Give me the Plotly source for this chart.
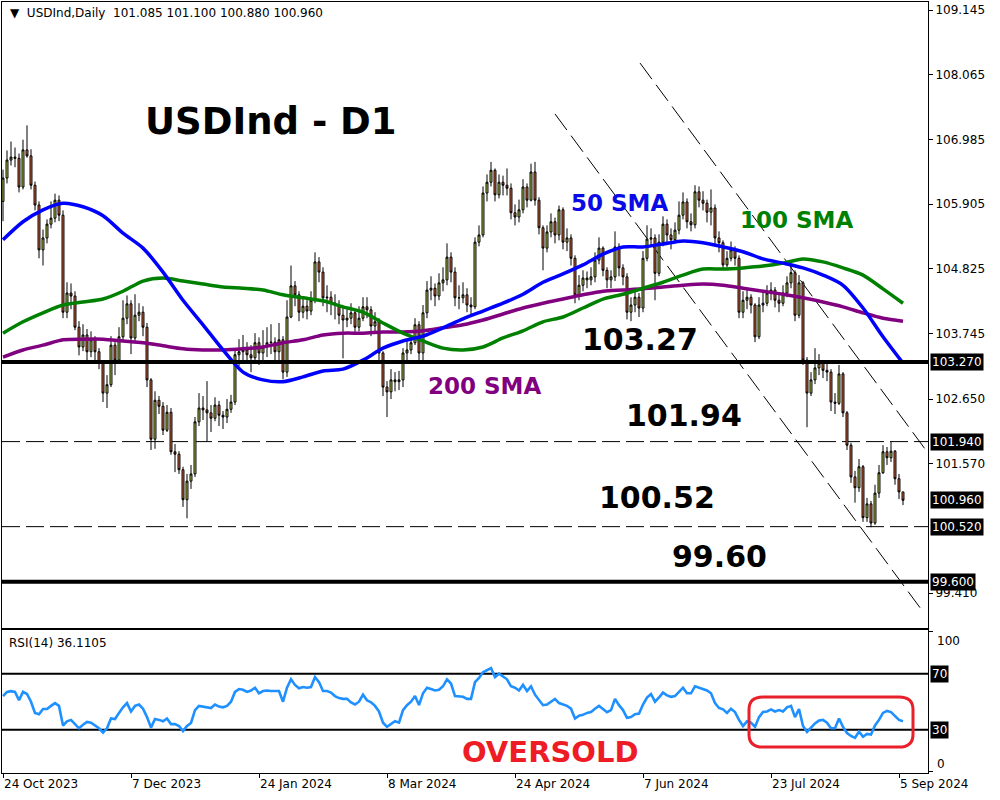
import plotly.graph_objects as go

# ---------------- data ----------------
first_open = 105.95
close = [
    106.34, 106.64, 106.69, 106.67, 106.19, 106.81, 106.71, 106.22, 105.89, 105.14,
    105.34, 105.57, 105.67, 105.97, 105.72, 104.10, 104.42, 104.37, 103.85, 103.52,
    103.72, 103.44, 103.64, 103.44, 103.25, 102.75, 102.89, 103.55, 103.30, 103.69,
    104.00, 104.24, 103.67, 104.05, 104.10, 103.85, 102.97, 101.98, 102.63, 102.53,
    102.13, 102.43, 101.77, 101.73, 101.47, 100.97, 101.28, 101.40, 102.27, 102.50,
    102.47, 102.42, 102.33, 102.55, 102.38, 102.35, 102.48, 102.60, 103.39, 103.44,
    103.47, 103.39, 103.34, 103.59, 103.42, 103.52, 103.59, 103.60, 103.44, 103.64,
    103.10, 104.02, 104.54, 104.39, 104.10, 104.20, 104.12, 104.30, 104.94, 104.77,
    104.34, 104.35, 104.25, 104.22, 104.05, 103.97, 104.00, 104.09, 103.85, 104.00,
    104.19, 104.14, 103.87, 103.94, 103.42, 102.85, 102.77, 102.97, 102.94, 102.97,
    103.42, 103.47, 103.59, 103.89, 103.42, 104.09, 104.47, 104.50, 104.37, 104.59,
    104.64, 105.02, 104.77, 104.34, 104.34, 104.39, 104.22, 104.19, 105.27, 105.39,
    106.09, 106.27, 106.47, 106.06, 106.27, 106.22, 106.17, 105.76, 105.69, 105.81,
    106.19, 105.97, 106.44, 105.97, 105.51, 105.17, 105.44, 105.61, 105.39, 105.81,
    105.27, 105.34, 105.00, 104.39, 104.55, 104.67, 104.64, 104.69, 104.97, 105.17,
    104.80, 104.64, 104.69, 105.19, 104.84, 104.69, 104.10, 104.22, 104.35, 104.17,
    105.00, 105.32, 105.34, 104.75, 105.27, 105.57, 105.39, 105.31, 105.47, 105.72,
    105.94, 105.61, 105.56, 106.11, 105.97, 105.92, 105.77, 105.84, 105.34, 105.26,
    104.89, 105.00, 105.14, 105.00, 104.10, 104.30, 104.35, 104.22, 103.69, 104.22,
    104.25, 104.42, 104.47, 104.30, 104.25, 104.42, 104.59, 104.76, 104.05, 104.59,
    103.30, 102.75, 102.97, 103.17, 103.25, 103.13, 103.10, 102.60, 102.58, 103.07,
    102.42, 101.88, 101.35, 101.17, 101.52, 100.67, 100.90, 100.58, 101.08, 101.42,
    101.77, 101.67, 101.78, 101.32, 101.10, 100.96,
]
high = [
    106.48, 106.80, 106.95, 106.85, 106.75, 106.98, 107.22, 106.82, 106.28, 105.95,
    105.48, 105.65, 105.95, 106.08, 106.05, 105.80, 104.60, 104.58, 104.45, 103.95,
    103.90, 103.82, 103.78, 103.70, 103.50, 103.30, 103.05, 103.70, 103.62, 103.85,
    104.30, 104.38, 104.30, 104.40, 104.25, 104.20, 103.92, 103.00, 102.78, 102.70,
    102.60, 102.55, 102.50, 101.90, 101.78, 101.52, 101.40, 101.55, 102.35, 102.75,
    102.70, 102.95, 102.55, 102.68, 102.62, 102.45, 102.65, 102.72, 103.50, 103.65,
    103.72, 103.60, 103.55, 103.75, 103.68, 103.80, 103.85, 103.90, 103.68, 103.92,
    103.70, 104.30, 104.88, 104.62, 104.45, 104.35, 104.30, 104.45, 105.10, 105.02,
    104.85, 104.55, 104.45, 104.40, 104.30, 104.20, 104.15, 104.25, 104.15, 104.20,
    104.35, 104.35, 104.20, 104.10, 104.00, 103.45, 102.95, 103.15, 103.10, 103.12,
    103.50, 103.65, 103.72, 104.00, 103.95, 104.22, 104.62, 104.70, 104.58, 104.75,
    104.85, 105.25, 105.10, 104.85, 104.55, 104.60, 104.50, 104.35, 105.35, 105.55,
    106.20, 106.40, 106.61, 106.50, 106.40, 106.38, 106.50, 106.25, 105.90, 105.98,
    106.32, 106.25, 106.58, 106.61, 106.02, 105.55, 105.55, 105.75, 105.68, 105.88,
    105.85, 105.50, 105.40, 105.05, 104.72, 104.80, 104.78, 104.85, 105.10, 105.35,
    105.20, 104.85, 104.80, 105.45, 105.25, 104.90, 104.75, 104.35, 104.50, 104.42,
    105.12, 105.55, 105.50, 105.40, 105.40, 105.70, 105.65, 105.50, 105.60, 105.95,
    106.10, 106.00, 105.75, 106.22, 106.20, 106.12, 105.98, 106.15, 105.90, 105.45,
    105.30, 105.12, 105.28, 105.20, 105.05, 104.45, 104.50, 104.40, 104.25, 104.35,
    104.42, 104.55, 104.60, 104.52, 104.40, 104.55, 104.70, 104.90, 104.80, 104.72,
    104.62, 103.35, 103.10, 103.50, 103.40, 103.30, 103.25, 103.15, 102.75, 103.22,
    103.10, 102.45, 101.92, 101.45, 101.65, 101.55, 101.00, 100.95, 101.22, 101.55,
    101.88, 101.85, 101.94, 101.80, 101.40, 101.10,
]
low = [
    105.62, 106.25, 106.55, 106.52, 106.10, 106.15, 106.68, 106.15, 105.80, 105.00,
    104.88, 105.25, 105.50, 105.60, 105.62, 104.00, 104.00, 104.15, 103.80, 103.38,
    103.45, 103.30, 103.35, 103.25, 103.15, 102.60, 102.50, 102.85, 103.05, 103.25,
    103.62, 103.90, 103.40, 103.60, 103.95, 103.70, 102.85, 101.80, 101.82, 102.40,
    102.05, 102.10, 101.72, 101.43, 101.40, 100.85, 100.66, 101.15, 101.35, 102.20,
    102.30, 101.95, 102.10, 102.28, 102.20, 102.15, 102.25, 102.42, 102.55, 103.20,
    103.30, 103.25, 103.10, 103.28, 103.22, 103.30, 103.35, 103.40, 103.30, 103.30,
    102.98, 103.02, 104.00, 104.20, 103.95, 104.00, 103.98, 104.05, 104.25, 104.60,
    104.20, 104.10, 104.05, 103.98, 103.90, 103.33, 103.85, 103.90, 103.72, 103.78,
    103.95, 104.00, 103.70, 103.75, 103.30, 102.70, 102.35, 102.65, 102.78, 102.80,
    102.85, 103.30, 103.40, 103.55, 103.28, 103.30, 104.00, 104.30, 104.20, 104.30,
    104.45, 104.55, 104.60, 104.20, 104.15, 104.25, 104.10, 104.05, 104.15, 105.20,
    105.35, 105.95, 106.20, 105.95, 106.00, 106.05, 106.05, 105.65, 105.55, 105.60,
    105.75, 105.85, 105.95, 105.88, 105.40, 104.80, 105.10, 105.35, 105.25, 105.30,
    105.15, 105.12, 104.88, 104.25, 104.30, 104.45, 104.50, 104.55, 104.60, 104.90,
    104.70, 104.50, 104.50, 104.62, 104.70, 104.55, 103.98, 103.95, 104.10, 104.02,
    104.10, 104.95, 105.20, 104.30, 104.70, 105.20, 105.25, 105.15, 105.25, 105.40,
    105.65, 105.50, 105.45, 105.50, 105.85, 105.80, 105.60, 105.55, 105.20, 105.10,
    104.80, 104.85, 104.95, 104.88, 104.00, 104.00, 104.15, 104.08, 103.60, 103.65,
    104.10, 104.20, 104.30, 104.18, 104.10, 104.20, 104.35, 104.50, 103.95, 104.00,
    103.22, 102.18, 102.70, 102.90, 103.05, 103.00, 102.95, 102.45, 102.40, 102.55,
    102.35, 101.80, 101.25, 100.92, 101.10, 100.60, 100.60, 100.51, 100.55, 101.00,
    101.40, 101.55, 101.60, 101.22, 100.98, 100.88,
]
rsi = [
    54.0, 57.0, 57.5, 57.0, 51.0, 57.0, 55.5, 50.0, 42.0, 41.0,
    44.8, 44.8, 47.0, 49.0, 47.0, 33.0, 36.0, 37.0, 34.0, 31.0,
    33.5, 35.5, 35.0, 33.0, 31.0, 28.0, 31.0, 38.0, 37.6, 42.0,
    46.0, 49.0, 43.0, 47.0, 48.0, 45.0, 39.0, 31.5, 37.6, 37.0,
    36.0, 38.0, 34.0, 34.0, 32.6, 29.0, 32.6, 34.8, 44.0, 47.0,
    46.5, 46.0, 45.5, 48.0, 46.5, 46.0, 47.0, 50.0, 57.0, 59.0,
    58.5, 57.0, 58.0, 60.0, 56.0, 57.6, 58.0, 57.6, 57.5, 57.6,
    50.0, 60.0, 66.0, 62.0, 59.6, 60.5, 60.0, 60.5, 67.6, 64.0,
    57.6, 57.6, 56.5, 54.0, 52.6, 52.0, 52.0, 49.5, 48.0, 50.0,
    55.0, 51.0, 49.5, 47.0, 43.0, 35.0, 32.0, 34.0, 36.0, 35.0,
    44.0, 47.5, 50.0, 54.0, 47.6, 56.0, 60.0, 59.0, 58.0, 58.5,
    61.0, 66.0, 63.0, 54.0, 54.0, 53.5, 52.0, 52.0, 64.0, 67.0,
    71.0, 72.5, 74.0, 67.6, 70.0, 68.0, 66.0, 61.0, 60.0, 58.0,
    62.0, 57.6, 61.0, 55.0, 51.0, 47.5, 48.0, 50.0, 52.0, 49.0,
    48.0, 47.0, 45.0, 38.0, 40.0, 40.6, 42.0, 42.6, 45.0, 47.0,
    44.8, 42.5, 44.0, 52.0, 47.5, 44.0, 38.5, 39.0, 41.0, 41.5,
    48.0, 53.0, 55.5, 50.0, 53.0, 56.5, 54.5, 53.5, 54.0, 57.0,
    60.0, 56.0, 56.0, 61.0, 60.0, 59.0, 58.0, 56.0, 49.0, 45.5,
    44.5, 42.0, 45.0, 42.6, 37.0, 32.6, 36.0, 35.0, 32.0, 39.0,
    42.6, 43.0, 44.5, 43.0, 44.0, 43.0, 46.0, 47.0, 39.0, 44.8,
    32.6, 28.4, 31.5, 34.5, 36.5, 37.0, 35.0, 31.0, 31.0, 38.0,
    32.0, 27.6, 25.5, 24.2, 28.5, 25.0, 27.0, 26.5, 33.0, 37.0,
    42.0, 43.4, 42.6, 40.0, 37.0, 36.11,
]
sma_step = 5
sma50 = [
    105.31, 105.61, 105.81, 105.92, 105.86, 105.71, 105.42, 105.17, 104.77, 104.30,
    103.89, 103.47, 103.10, 102.97, 102.94, 103.02, 103.12, 103.15, 103.30, 103.50,
    103.62, 103.70, 103.84, 103.99, 104.12, 104.25, 104.40, 104.60, 104.74, 104.89,
    105.07, 105.19, 105.19, 105.24, 105.29, 105.26, 105.19, 105.11, 104.99, 104.92,
    104.84, 104.72, 104.55, 104.17, 103.69, 103.25,
]
sma100 = [
    103.75, 103.94, 104.09, 104.22, 104.27, 104.32, 104.45, 104.62, 104.67, 104.62,
    104.57, 104.52, 104.50, 104.47, 104.39, 104.34, 104.29, 104.19, 104.10, 103.92,
    103.75, 103.62, 103.50, 103.47, 103.52, 103.67, 103.79, 103.94, 104.02, 104.17,
    104.32, 104.40, 104.50, 104.60, 104.72, 104.82, 104.82, 104.84, 104.87, 104.92,
    104.99, 104.94, 104.84, 104.72, 104.49, 104.25,
]
sma200 = [
    103.35, 103.47, 103.55, 103.64, 103.65, 103.65, 103.62, 103.59, 103.54, 103.49,
    103.47, 103.47, 103.49, 103.52, 103.59, 103.64, 103.72, 103.75, 103.75, 103.77,
    103.77, 103.79, 103.84, 103.89, 103.97, 104.07, 104.17, 104.25, 104.32, 104.39,
    104.45, 104.47, 104.49, 104.52, 104.55, 104.57, 104.55, 104.50, 104.45, 104.40,
    104.34, 104.27, 104.19, 104.09, 104.00, 103.95,
]
date_tick_bars = [0, 32, 64, 96, 128, 160, 192, 224]
date_tick_labels = ["24 Oct 2023", "7 Dec 2023", "24 Jan 2024", "8 Mar 2024",
                    "24 Apr 2024", "7 Jun 2024", "23 Jul 2024", "5 Sep 2024"]
price_ticks = [109.145, 108.065, 106.985, 105.905, 104.825, 103.745, 102.650, 101.570, 99.410]
solid_levels = [103.27, 99.60]
dashed_levels = [101.94, 100.52]
boxed_prices = [103.27, 101.94, 100.96, 100.52, 99.60]
level_labels = ["103.27", "101.94", "100.52", "99.60"]
channel_lower = {"bar": [138, 230], "price": [107.41, 99.10]}
channel_upper = {"bar": [159.25, 231.25], "price": [108.26, 101.75]}
oversold_zone = {"bar": [186.5, 227.5], "rsi": [17.6, 53.4]}
rsi_levels = [70, 30]
header_ohlc = "101.085 101.100 100.880 100.960"
rsi_value_text = "36.1105"

# ---------------- figure ----------------
bars = list(range(len(close)))
opens = [first_open] + close[:-1]
sma_x = list(range(0, len(close), sma_step))

W, H = 1000, 800
def px(x):
    return x / W
def py(y):
    return 1 - y / H

FONT = "DejaVu Sans"
fig = go.Figure()

fig.add_trace(go.Candlestick(
    x=bars, open=opens, high=high, low=low, close=close,
    increasing=dict(fillcolor="#b9d54a", line=dict(color="black", width=1)),
    decreasing=dict(fillcolor="#e4693c", line=dict(color="black", width=1)),
    whiskerwidth=0, xaxis="x", yaxis="y", showlegend=False, hoverinfo="skip",
))
for vals, col in [(sma200, "#800080"), (sma100, "#008000"), (sma50, "#0000ff")]:
    fig.add_trace(go.Scatter(x=sma_x, y=vals, mode="lines",
                             line=dict(color=col, width=3.5, shape="spline", smoothing=0.8),
                             xaxis="x", yaxis="y", showlegend=False, hoverinfo="skip"))

fig.add_trace(go.Scatter(x=bars, y=rsi, mode="lines",
                         line=dict(color="#1e90ff", width=2.6),
                         xaxis="x2", yaxis="y2", showlegend=False, hoverinfo="skip"))

shapes = []
for lv in solid_levels:
    shapes.append(dict(type="line", xref="x domain", yref="y", x0=0, x1=1, y0=lv, y1=lv,
                       line=dict(color="black", width=4), layer="above"))
for lv in dashed_levels:
    shapes.append(dict(type="line", xref="x domain", yref="y", x0=0, x1=1, y0=lv, y1=lv,
                       line=dict(color="black", width=1, dash="18px,6px"), layer="below"))
for ch in (channel_lower, channel_upper):
    shapes.append(dict(type="line", xref="x", yref="y",
                       x0=ch["bar"][0], x1=ch["bar"][1], y0=ch["price"][0], y1=ch["price"][1],
                       line=dict(color="black", width=1, dash="20px,7px"), layer="below"))
for lv in rsi_levels:
    shapes.append(dict(type="line", xref="x2 domain", yref="y2", x0=0, x1=1, y0=lv, y1=lv,
                       line=dict(color="black", width=2), layer="below"))
x0, x1 = oversold_zone["bar"]
y0, y1 = oversold_zone["rsi"]
rx, ry = 3.5, 9.0
path = (f"M {x0+rx},{y1} L {x1-rx},{y1} Q {x1},{y1} {x1},{y1-ry} L {x1},{y0+ry} "
        f"Q {x1},{y0} {x1-rx},{y0} L {x0+rx},{y0} Q {x0},{y0} {x0},{y0+ry} "
        f"L {x0},{y1-ry} Q {x0},{y1} {x0+rx},{y1} Z")
shapes.append(dict(type="path", xref="x2", yref="y2", path=path,
                   line=dict(color="#e8202a", width=3), layer="above"))

ann = []
def text(x, y, t, size, color="black", bold=True, xanchor="center"):
    ann.append(dict(xref="paper", yref="paper", x=x, y=y, text=t, showarrow=False,
                    xanchor=xanchor, yanchor="middle",
                    font=dict(family=FONT, size=size, color=color,
                              weight="bold" if bold else "normal")))

text(px(8), py(13), "\u25BC\u00a0\u00a0USDInd,Daily\u00a0\u00a0" + header_ohlc.replace(" ", "\u00a0"),
     12, bold=False, xanchor="left")
text(px(271), py(121), "USDInd - D1", 37)
text(px(619), py(203), "50 SMA", 23, "#0a0ae6")
text(px(796), py(220), "100 SMA", 23, "#008000")
text(px(484), py(386), "200 SMA", 23, "#800080")
for lab, (cx, cy) in zip(level_labels, [(640, 339), (684, 415), (657, 497), (719, 556)]):
    text(px(cx), py(cy), lab, 30)
text(px(550), py(752), "OVERSOLD", 29, "#ee1c25")
text(px(7), py(643), "RSI(14) " + rsi_value_text, 12, bold=False, xanchor="left")

for p in boxed_prices:
    ann.append(dict(xref="paper", yref="y", x=px(930), y=p, text=f"{p:.3f}", showarrow=False,
                    xanchor="left", yanchor="middle", bgcolor="black", borderpad=1,
                    font=dict(family=FONT, size=12, color="white")))
for lv in rsi_levels:
    ann.append(dict(xref="paper", yref="y2", x=px(930), y=lv, text=str(lv), showarrow=False,
                    xanchor="left", yanchor="middle", bgcolor="black", borderpad=1,
                    font=dict(family=FONT, size=12, color="white")))
text(px(935), py(641), "100", 12, bold=False, xanchor="left")
text(px(935), py(764), "0", 12, bold=False, xanchor="left")

xr = [-0.25, 231.25]
axis_common = dict(showline=True, mirror=True, linecolor="black", linewidth=1,
                   showgrid=False, zeroline=False, automargin=False)
fig.update_layout(
    width=W, height=H, margin=dict(l=0, r=0, t=0, b=0, autoexpand=False),
    paper_bgcolor="white", plot_bgcolor="white",
    font=dict(family=FONT, size=12, color="black"),
    shapes=shapes, annotations=ann, showlegend=False,
    xaxis=dict(domain=[px(2), px(928)], range=xr, anchor="y", showticklabels=False,
               ticks="", rangeslider=dict(visible=False), **axis_common),
    yaxis=dict(domain=[py(628), py(2)], range=[98.828, 109.279], anchor="x", side="right",
               tickvals=price_ticks, ticktext=[f"{v:.3f}" for v in price_ticks],
               ticks="outside", ticklen=4, tickcolor="black",
               tickfont=dict(family=FONT, size=12, color="black"), **axis_common),
    xaxis2=dict(domain=[px(2), px(928)], range=xr, anchor="y2",
                tickvals=date_tick_bars, ticktext=date_tick_labels,
                ticks="outside", ticklen=4, tickcolor="black",
                ticklabelposition="outside right",
                tickfont=dict(family=FONT, size=12, color="black"), **axis_common),
    yaxis2=dict(domain=[py(773), py(630)], range=[-0.93, 101.2], anchor="x2", side="right",
                tickvals=[0, 100], ticktext=["", ""], ticks="outside", ticklen=4,
                tickcolor="black", **axis_common),
)

fig.write_html("out.html", config={"displayModeBar": False},
               post_script="document.body.style.margin='0px';")
